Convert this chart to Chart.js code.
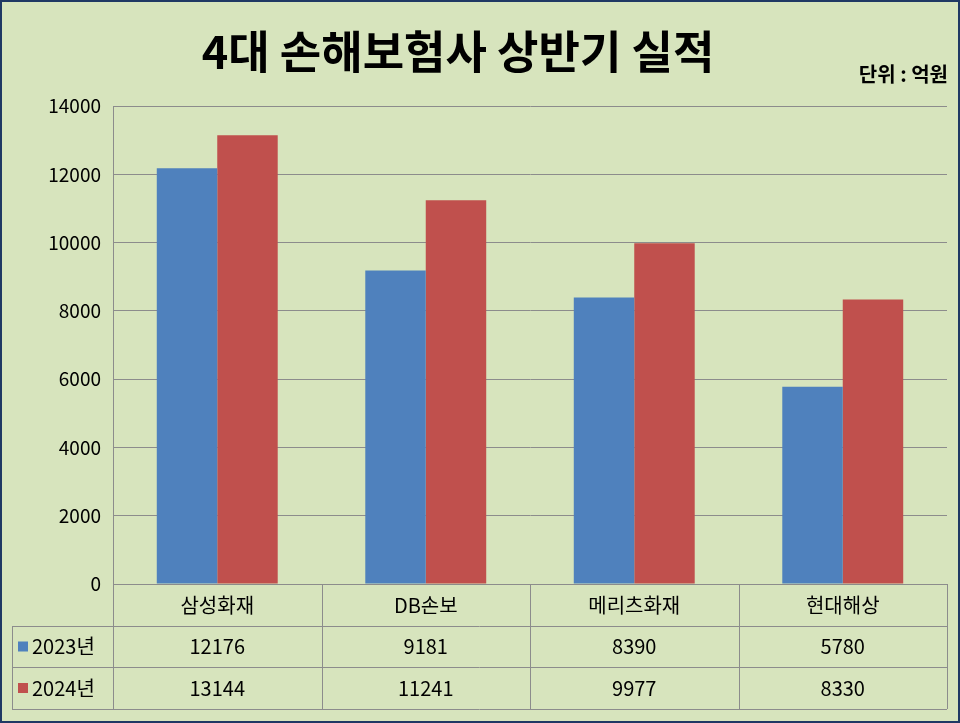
<!DOCTYPE html>
<html><head><meta charset="utf-8">
<script src="https://cdn.jsdelivr.net/npm/chart.js@4"></script>
<style>
html,body{margin:0;padding:0;background:#fff}
#wrap{width:956px;height:719px;border:2px solid #1f3864;background:#d7e4bd;position:relative}
</style></head>
<body>
<div id="wrap"><canvas id="c" width="956" height="719"></canvas></div>
<script>
const categories = ['삼성화재', 'DB손보', '메리츠화재', '현대해상'];
const seriesNames = ['2023년', '2024년'];
const values2023 = [12176, 9181, 8390, 5780];
const values2024 = [13144, 11241, 9977, 8330];
const colors = ['#4f81bd', '#c0504d'];
const font = '"Noto Sans CJK KR", "Noto Sans", sans-serif';

const tablePlugin = {
  id: 'table',
  afterDraw(chart) {
    const ctx = chart.ctx, x = chart.scales.x, a = chart.chartArea;
    const rows = [a.bottom, a.bottom + 42, a.bottom + 83, a.bottom + 125];
    const left = 10;
    ctx.save();
    ctx.strokeStyle = '#8c8c8c';
    ctx.lineWidth = 1;
    ctx.beginPath();
    ctx.moveTo(a.left, rows[0] + 0.5); ctx.lineTo(a.right, rows[0] + 0.5);
    for (let i = 1; i < 4; i++) { ctx.moveTo(left, rows[i] + 0.5); ctx.lineTo(a.right, rows[i] + 0.5); }
    const w = (a.right - a.left) / categories.length;
    for (let i = 0; i <= categories.length; i++) {
      const px = Math.round(a.left + i * w) + 0.5;
      ctx.moveTo(px, rows[0]); ctx.lineTo(px, rows[3]);
    }
    ctx.moveTo(left + 0.5, rows[1]); ctx.lineTo(left + 0.5, rows[3]);
    ctx.stroke();
    ctx.fillStyle = '#000';
    ctx.font = '20px ' + font;
    ctx.textAlign = 'center'; ctx.textBaseline = 'middle';
    const data = [values2023, values2024];
    categories.forEach((c, i) => {
      const cx = x.getPixelForValue(i);
      ctx.fillText(c, cx, (rows[0] + rows[1]) / 2);
      ctx.fillText(String(data[0][i]), cx, (rows[1] + rows[2]) / 2);
      ctx.fillText(String(data[1][i]), cx, (rows[2] + rows[3]) / 2);
    });
    ctx.textAlign = 'left';
    seriesNames.forEach((s, j) => {
      const cy = (rows[j + 1] + rows[j + 2]) / 2;
      ctx.fillStyle = colors[j];
      ctx.fillRect(16, cy - 5, 10, 10);
      ctx.fillStyle = '#000';
      ctx.fillText(s, 30, cy);
    });
    ctx.textAlign = 'center'; ctx.textBaseline = 'middle';
    ctx.font = 'bold 45px ' + font;
    ctx.fillText('4대 손해보험사 상반기 실적', 456, 50);
    ctx.textAlign = 'right';
    ctx.font = 'bold 20px ' + font;
    ctx.fillText('단위 : 억원', 946, 72);
    ctx.restore();
  }
};

new Chart(document.getElementById('c'), {
  type: 'bar',
  data: {
    labels: categories,
    datasets: [
      { label: seriesNames[0], data: values2023, backgroundColor: colors[0] },
      { label: seriesNames[1], data: values2024, backgroundColor: colors[1] }
    ]
  },
  options: {
    responsive: false, animation: false,
    layout: { padding: { top: 104, right: 11, bottom: 129, left: 0 } },
    plugins: { legend: { display: false }, tooltip: { enabled: false } },
    datasets: { bar: { categoryPercentage: 0.58, barPercentage: 1 } },
    scales: {
      x: { ticks: { display: false }, grid: { display: false }, border: { color: '#8c8c8c' } },
      y: {
        min: 0, max: 14000,
        ticks: { stepSize: 2000, color: '#000', font: { size: 19, family: font }, padding: 12,
          callback: v => String(v) },
        grid: { color: '#8c8c8c', drawTicks: false },
        border: { color: '#8c8c8c' },
        afterFit(s) { s.width = 111; }
      }
    }
  },
  plugins: [tablePlugin]
});
</script>
</body></html>
